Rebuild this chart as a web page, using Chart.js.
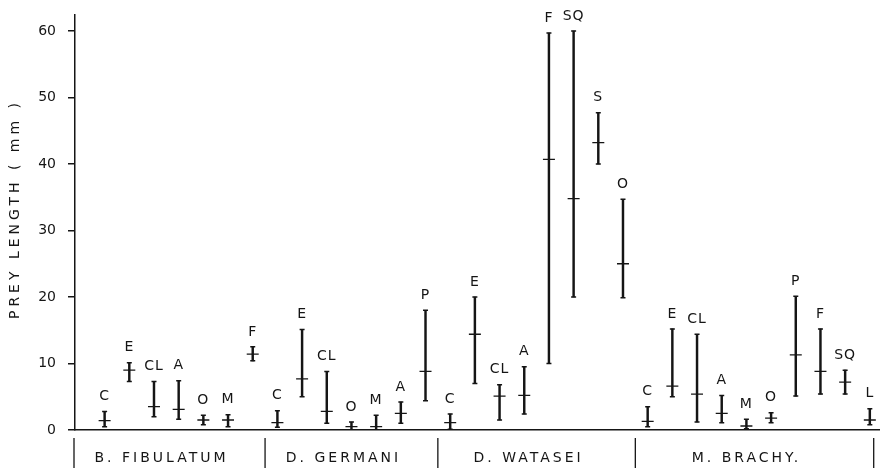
<!DOCTYPE html>
<html>
<head>
<meta charset="utf-8">
<script src="https://cdn.jsdelivr.net/npm/chart.js@4"></script>
<style>
  body { margin: 0; background: #fff; }
  #wrap { width: 887px; height: 473px; }
</style>
</head>
<body>
<div id="wrap"><canvas id="myChart"></canvas></div>
<script>
// groups of predators and their prey categories, in drawing order
const groups = ['B. FIBULATUM', 'D. GERMANI', 'D. WATASEI', 'M. BRACHY.'];
const groupSizes = [7, 7, 8, 10];
const preyLabels = ['C', 'E', 'CL', 'A', 'O', 'M', 'F',
                    'C', 'E', 'CL', 'O', 'M', 'A', 'P',
                    'C', 'E', 'CL', 'A', 'F', 'SQ', 'S', 'O',
                    'C', 'E', 'CL', 'A', 'M', 'O', 'P', 'F', 'SQ', 'L'];
const minLength = [0.5, 7.3, 2.0, 1.6, 0.8, 0.5, 10.4,
                   0.4, 5.0, 1.0, 0.0, 0.0, 1.0, 4.4,
                   0.1, 7.0, 1.5, 2.4, 10.0, 20.0, 40.0, 19.9,
                   0.5, 5.0, 1.2, 1.1, 0.2, 1.1, 5.1, 5.4, 5.4, 0.8];
const maxLength = [2.8, 10.1, 7.3, 7.4, 2.2, 2.3, 12.5,
                   2.9, 15.1, 8.8, 1.2, 2.2, 4.2, 18.0,
                   2.4, 20.0, 6.8, 9.5, 59.7, 60.0, 47.7, 34.7,
                   3.5, 15.2, 14.4, 5.2, 1.6, 2.6, 20.1, 15.2, 9.0, 3.2];
const meanLength = [1.4, 9.0, 3.5, 3.1, 1.5, 1.5, 11.4,
                    1.1, 7.7, 2.8, 0.5, 0.5, 2.5, 8.8,
                    1.1, 14.4, 5.1, 5.2, 40.7, 34.8, 43.2, 25.0,
                    1.3, 6.6, 5.4, 2.5, 0.6, 1.8, 11.3, 8.8, 7.2, 1.5];
const yTicks = [0, 10, 20, 30, 40, 50, 60];
const yTitle = 'PREY LENGTH ( mm )';

const ink = '#151515';
const fontFamily = '"DejaVu Sans", sans-serif';

// draws prey letters, group labels, separators and the rotated y title
const labelsPlugin = {
  id: 'labels',
  afterDraw(chart) {
    const ctx = chart.ctx;
    const xs = chart.scales.x, ys = chart.scales.y;
    const area = chart.chartArea;
    ctx.save();
    ctx.fillStyle = ink;
    ctx.strokeStyle = ink;
    ctx.textAlign = 'center';
    ctx.textBaseline = 'middle';

    ctx.font = '14px ' + fontFamily;
    ctx.letterSpacing = '1px';
    preyLabels.forEach((lab, i) => {
      ctx.fillText(lab, xs.getPixelForValue(i), ys.getPixelForValue(maxLength[i]) - 15);
    });

    // separators and group names under the axis
    let bounds = [area.left - 1];
    let start = 0;
    groupSizes.forEach((n, g) => {
      start += n;
      bounds.push(g === groupSizes.length - 1 ? area.right - 6 : xs.getPixelForValue(start - 0.5));
    });
    ctx.lineWidth = 1.3;
    bounds.forEach(bx => {
      ctx.beginPath();
      ctx.moveTo(bx, 438);
      ctx.lineTo(bx, 468);
      ctx.stroke();
    });
    ctx.letterSpacing = '3px';
    groups.forEach((name, g) => {
      ctx.fillText(name, (bounds[g] + bounds[g + 1]) / 2 - 8, 458);
    });

    ctx.font = '14px ' + fontFamily;
    ctx.letterSpacing = '4px';
    ctx.translate(15, 209);
    ctx.rotate(-Math.PI / 2);
    ctx.fillText(yTitle, 0, 0);
    ctx.restore();
  }
};

new Chart('myChart', {
  type: 'bar',
  data: {
    datasets: [
      {
        label: 'range',
        data: preyLabels.map((_, i) => ({x: i, y: [minLength[i], maxLength[i]]})),
        backgroundColor: ink,
        barThickness: 1.8,
        borderSkipped: false
      },
      {
        type: 'scatter',
        label: 'caps',
        data: preyLabels.map((_, i) => ({x: i, y: minLength[i]}))
          .concat(preyLabels.map((_, i) => ({x: i, y: maxLength[i]}))),
        pointStyle: 'line',
        radius: 2.5,
        borderWidth: 1.5,
        borderColor: ink
      },
      {
        type: 'scatter',
        label: 'mean',
        data: preyLabels.map((_, i) => ({x: i, y: meanLength[i]})),
        pointStyle: 'line',
        radius: 6,
        borderWidth: 1.3,
        borderColor: ink
      }
    ]
  },
  options: {
    responsive: true,
    maintainAspectRatio: false,
    animation: false,
    events: [],
    layout: { padding: { top: 15, bottom: 43, left: 0, right: 2 } },
    plugins: { legend: { display: false }, tooltip: { enabled: false } },
    scales: {
      x: {
        type: 'linear',
        offset: false,
        min: -1.2,
        max: 31.4,
        grid: { display: false },
        ticks: { display: false },
        border: { color: ink, width: 1.5 },
        afterFit(scale) { scale.height = 0; }
      },
      y: {
        min: 0,
        max: 62.4,
        afterBuildTicks(scale) { scale.ticks = yTicks.map(v => ({value: v})); },
        ticks: {
          color: ink,
          padding: 12,
          font: { family: fontFamily, size: 14 }
        },
        grid: { drawOnChartArea: false, tickLength: 7, color: ink, lineWidth: 1.5 },
        border: { color: ink, width: 1.5 },
        afterFit(scale) {
          scale.width = 75;
          scale.paddingTop = 0;
          scale.paddingBottom = 0;
        }
      }
    }
  },
  plugins: [labelsPlugin]
});
</script>
</body>
</html>
